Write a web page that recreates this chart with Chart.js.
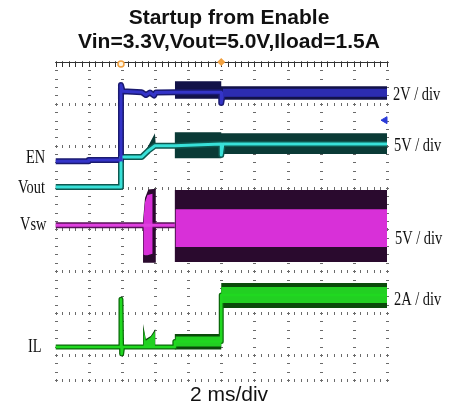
<!DOCTYPE html>
<html>
<head>
<meta charset="utf-8">
<script src="https://cdn.jsdelivr.net/npm/chart.js@4/dist/chart.umd.min.js"></script>
<style>
  html, body { margin: 0; padding: 0; background: #fff; }
  #scope { display: block; }
</style>
</head>
<body>
<canvas id="scope" width="458" height="412"></canvas>
<script>
// time in ms (2 ms/div), levels in screen divisions (0 = IL ground row)
const xDivs = [0, 2, 4, 6, 8, 10, 12, 14, 16, 18, 20];
const yDivs = [0, 1, 2, 3, 4, 5, 6, 7];

const traceNames = ['EN', 'Vout', 'Vsw', 'IL'];
const scaleNames = ['2V / div', '5V / div', '5V / div', '2A / div'];

// EN
const enT = [0, 2, 2, 3.95, 3.95, 4.05, 5.2, 5.45, 5.7, 5.95, 6.05, 7.2, 10, 10, 10.1, 20];
const enV = [4.63, 4.63, 4.66, 4.66, 6.45, 6.3, 6.28, 6.21, 6.27, 6.2, 6.27, 6.28, 6.28, 6.02, 6.25, 6.25];
const enBandT = [7.2, 10, 10, 20];
const enBandHi = [6.54, 6.54, 6.42, 6.42];
const enBandLo = [6.12, 6.12, 6.1, 6.1];
const enCoreT = [10.1, 20];
const enCoreHi = [6.36, 6.36];
const enCoreLo = [6.17, 6.17];

// Vout
const voutT = [0, 3.95, 3.95, 5.2, 5.6, 6.0, 7.2, 10, 10, 10.1, 20];
const voutV = [4.01, 4.01, 4.73, 4.73, 4.88, 5.0, 5.0, 5.04, 4.78, 5.04, 5.04];
const voutBandT = [5.2, 5.6, 6.0, 6.05, 7.2, 7.2, 10, 10, 20];
const voutBandHi = [4.74, 5.0, 5.3, 5.0, 5.0, 5.32, 5.32, 5.3, 5.3];
const voutBandLo = [4.72, 4.86, 4.98, 5.0, 5.0, 4.7, 4.7, 4.8, 4.8];

// Vsw
const vswT = [0, 7.2];
const vswV = [3.1, 3.1];
const vswBandT = [5.28, 5.4, 5.6, 6.05, 6.05, 7.2, 7.2, 20];
const vswBandHi = [3.2, 3.75, 3.95, 3.97, 3.1, 3.1, 3.94, 3.94];
const vswBandLo = [2.2, 2.2, 2.2, 2.2, 3.1, 3.1, 2.22, 2.22];
const vswCoreT = [5.3, 5.4, 5.55, 5.85, 5.85, 7.25, 7.25, 20];
const vswCoreHi = [3.2, 3.65, 3.82, 3.85, 3.1, 3.1, 3.48, 3.48];
const vswCoreLo = [2.4, 2.38, 2.38, 2.42, 3.1, 3.1, 2.58, 2.58];

// IL
const ilT = [0, 3.95, 3.95, 3.99, 4.05, 5.28, 7.2, 7.2, 10, 10, 20];
const ilV = [0.19, 0.19, 1.33, 0.02, 0.19, 0.19, 0.19, 0.32, 0.32, 1.43, 1.43];
const ilBandT = [5.28, 5.28, 5.45, 5.75, 6.02, 6.02, 7.2, 7.2, 10, 10, 20];
const ilBandHi = [0.19, 0.74, 0.38, 0.45, 0.62, 0.19, 0.19, 0.5, 0.5, 1.72, 1.72];
const ilBandLo = [0.19, 0.15, 0.15, 0.15, 0.15, 0.19, 0.19, 0.13, 0.13, 1.12, 1.12];
const ilCoreT = [5.3, 5.45, 5.75, 6.0, 6.0, 7.25, 7.25, 10, 10, 20];
const ilCoreHi = [0.65, 0.34, 0.42, 0.56, 0.19, 0.19, 0.44, 0.44, 1.62, 1.62];
const ilCoreLo = [0.18, 0.18, 0.18, 0.18, 0.19, 0.19, 0.2, 0.2, 1.24, 1.24];

// markers: trigger points on top edge and trigger level arrow
const trigT = [3.95, 10];
const trigV = [6.95, 7.0];
const levelT = [19.88];
const levelV = [5.61];

const pts = (t, v) => t.map((x, i) => ({ x, y: v[i] }));

const line = (t, v, color, width, order) => ({
  data: pts(t, v), borderColor: color, borderWidth: width,
  borderJoinStyle: 'round', borderCapStyle: 'butt',
  pointRadius: 0, fill: false, order
});

const band = (t, hi, lo, color, order) => [
  { data: pts(t, hi), borderColor: 'transparent', borderWidth: 0, backgroundColor: color,
    pointRadius: 0, fill: '+1', order },
  { data: pts(t, lo), borderColor: 'transparent', borderWidth: 0,
    pointRadius: 0, fill: false, order }
];

const datasets = [
  ...band(enBandT, enBandHi, enBandLo, '#121248', 40),
  ...band(voutBandT, voutBandHi, voutBandLo, '#0a3a36', 40),
  ...band(vswBandT, vswBandHi, vswBandLo, '#2a0a2e', 40),
  ...band(ilBandT, ilBandHi, ilBandLo, '#0a4a0a', 40),
  line(enT, enV, '#1a1a70', 6, 30),
  line(voutT, voutV, '#0e5850', 6, 30),
  line(vswT, vswV, '#5a105a', 6, 30),
  line(ilT, ilV, '#0a6a0a', 5, 30),
  ...band(vswCoreT, vswCoreHi, vswCoreLo, '#d830d8', 20),
  ...band(ilCoreT, ilCoreHi, ilCoreLo, '#22d022', 20),
  line(enT, enV, '#3434c8', 3, 10),
  line(voutT, voutV, '#38e0d8', 3, 10),
  line(vswT, vswV, '#e040e0', 3, 10),
  line(ilT, ilV, '#20d820', 2.5, 10),
  ...band(enCoreT, enCoreHi, enCoreLo, '#2c2cb0', 5),
  { data: pts(trigT, trigV), showLine: false, pointStyle: ['circle', 'rectRot'],
    pointRadius: [3, 3], borderWidth: 1.5, borderColor: '#f0a040',
    backgroundColor: ['#fff4e0', '#f0a040'], clip: false, order: 0 },
  { data: pts(levelT, levelV), showLine: false, pointStyle: 'triangle', rotation: -90,
    pointRadius: 4, borderWidth: 1, borderColor: '#2a3ad8', backgroundColor: '#2a3ad8',
    clip: false, order: 0 }
];

// dotted scope graticule: small ticks along each major row / column
const scopeGrid = {
  id: 'scopeGrid',
  beforeDatasetsDraw(chart) {
    const { ctx, chartArea: a, scales: { x, y } } = chart;
    ctx.save();
    ctx.strokeStyle = '#6a6a6a';
    ctx.lineWidth = 1;
    ctx.beginPath();
    for (const v of yDivs.concat([-0.6])) {
      const py = Math.round(y.getPixelForValue(v)) + 0.5;
      for (let m = 0; m <= 50; m++) {
        const px = Math.round(x.getPixelForValue(m * 0.4)) + 0.5;
        ctx.moveTo(px, py - 1.5);
        ctx.lineTo(px, py + 1.5);
      }
    }
    for (const t of xDivs) {
      const px = Math.round(x.getPixelForValue(t)) + 0.5;
      for (let m = -3; m <= 35; m++) {
        const py = Math.round(y.getPixelForValue(m * 0.2)) + 0.5;
        ctx.moveTo(px - 1.5, py);
        ctx.lineTo(px + 1.5, py);
      }
    }
    ctx.stroke();
    // ruler on the top edge
    ctx.strokeStyle = '#333';
    ctx.beginPath();
    ctx.moveTo(a.left, a.top + 0.5);
    ctx.lineTo(a.right, a.top + 0.5);
    for (let m = 0; m <= 50; m++) {
      const px = Math.round(x.getPixelForValue(m * 0.4)) + 0.5;
      ctx.moveTo(px, a.top);
      ctx.lineTo(px, a.top + 5);
    }
    ctx.stroke();
    ctx.restore();
  }
};

// channel names on the left, scale factors on the right
const scopeText = {
  id: 'scopeText',
  afterDraw(chart) {
    const { ctx } = chart;
    const left = [[26, 163], [18, 193], [20, 230], [28, 352]];
    const right = [[393, 100], [394, 151], [395, 244], [394, 305]];
    ctx.save();
    ctx.fillStyle = '#111';
    ctx.font = "18px 'Liberation Serif', 'Times New Roman', serif";
    ctx.textBaseline = 'alphabetic';
    const put = (s, p) => {
      ctx.save();
      ctx.translate(p[0], p[1]);
      ctx.scale(0.8, 1);
      ctx.fillText(s, 0, 0);
      ctx.restore();
    };
    traceNames.forEach((s, i) => put(s, left[i]));
    scaleNames.forEach((s, i) => put(s, right[i]));
    ctx.restore();
  }
};

const hidden = { ticks: { display: false }, grid: { display: false }, border: { display: false } };

new Chart(document.getElementById('scope'), {
  type: 'line',
  data: { datasets },
  plugins: [scopeGrid, scopeText],
  options: {
    responsive: false,
    animation: false,
    devicePixelRatio: 1,
    layout: { padding: 0 },
    elements: { line: { tension: 0 } },
    plugins: {
      legend: { display: false },
      tooltip: { enabled: false },
      title: {
        display: true,
        text: ['Startup from Enable', 'Vin=3.3V,Vout=5.0V,Iload=1.5A'],
        color: '#111',
        font: { family: "Arial, 'Liberation Sans', sans-serif", size: 21, weight: 'bold', lineHeight: 1.143 },
        padding: { top: 6.5, bottom: 7.5 }
      },
      subtitle: {
        display: true,
        position: 'bottom',
        text: '2 ms/div',
        color: '#111',
        font: { family: "Arial, 'Liberation Sans', sans-serif", size: 21, weight: 'normal', lineHeight: 1.2 },
        padding: { top: 2.4, bottom: 4.4 }
      }
    },
    scales: {
      x: { type: 'linear', min: 0, max: 20, display: false },
      y: { type: 'linear', min: -0.6, max: 7, position: 'left', ...hidden,
           afterFit(s) { s.width = 55.5; } },
      yRight: { type: 'linear', position: 'right', ...hidden,
           afterFit(s) { s.width = 71; } }
    }
  }
});
</script>
</body>
</html>
